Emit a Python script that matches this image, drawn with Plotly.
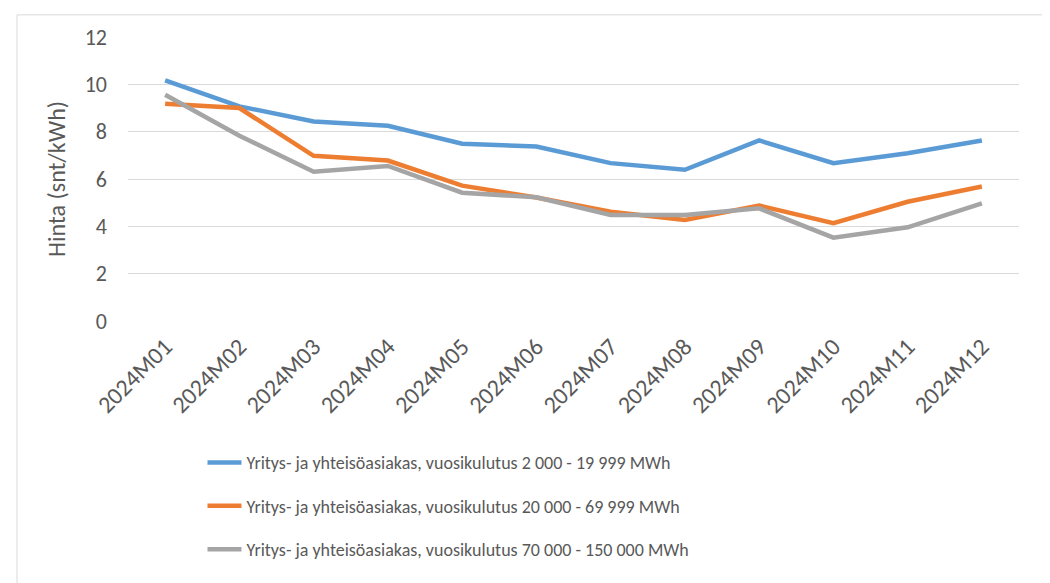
import plotly.graph_objects as go

months = ["2024M01", "2024M02", "2024M03", "2024M04", "2024M05", "2024M06",
          "2024M07", "2024M08", "2024M09", "2024M10", "2024M11", "2024M12"]
series_names = [
    "Yritys- ja yhteisöasiakas, vuosikulutus 2 000 - 19 999 MWh",
    "Yritys- ja yhteisöasiakas, vuosikulutus 20 000 - 69 999 MWh",
    "Yritys- ja yhteisöasiakas, vuosikulutus 70 000 - 150 000 MWh",
]
small = [10.17, 9.07, 8.43, 8.25, 7.49, 7.37, 6.67, 6.39, 7.63, 6.67, 7.09, 7.63]
medium = [9.18, 9.00, 6.98, 6.78, 5.72, 5.22, 4.62, 4.27, 4.88, 4.13, 5.04, 5.68]
large = [9.56, 7.83, 6.31, 6.55, 5.42, 5.23, 4.48, 4.48, 4.76, 3.52, 3.96, 4.97]
colors = ["#5B9BD5", "#ED7D31", "#A5A5A5"]

FONT = "Carlito, Lato, sans-serif"
fig = go.Figure()
for i, (name, vals) in enumerate(zip(series_names, [small, medium, large])):
    fig.add_trace(go.Scatter(x=months, y=vals, name=name, mode="lines",
                             legendgroup=f"g{i}",
                             line=dict(color=colors[i], width=4.5)))

fig.update_layout(
    width=1050, height=583,
    paper_bgcolor="white", plot_bgcolor="white",
    margin=dict(l=120, r=39, t=29, b=270),
    font=dict(family=FONT, color="#595959"),
    showlegend=True,
    legend=dict(x=0.0836, y=-0.434, xanchor="left", yanchor="top",
                itemwidth=34,
                font=dict(size=18, color="#595959", family=FONT),
                tracegroupgap=17, bgcolor="rgba(0,0,0,0)"),
    xaxis=dict(type="category", tickangle=-45, tickfont=dict(size=24, color="#595959"),
               showgrid=False, showline=False, ticks="", range=[-0.5, 11.5],
               ticklabelstandoff=6),
    yaxis=dict(range=[0, 12], dtick=2, tickfont=dict(size=22, color="#595959"),
               gridcolor="#D9D9D9", gridwidth=1, zeroline=False, showline=False,
               ticks="", ticklen=0, ticklabelstandoff=20,
               title=dict(text="Hinta (snt/kWh)", font=dict(size=24, color="#595959"),
                          standoff=12)),
    shapes=[dict(type="rect", xref="paper", yref="paper",
                 x0=-0.1246, x1=1.2, y0=-2.0, y1=1.078,
                 line=dict(color="#D9D9D9", width=1), layer="below")],
)

fig.write_html("out.html")
